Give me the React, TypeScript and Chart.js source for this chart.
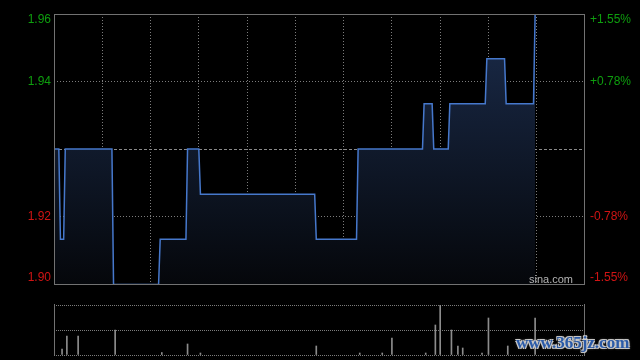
import React, { useEffect, useRef } from 'react';
import { Chart, registerables } from 'chart.js';

Chart.register(...registerables);

// ---- data ----
const PREV_CLOSE = 1.93;
const RANGE_PCT = 0.0155;
const SESSION_MINUTES = 330; // 09:30-12:00 + 13:00-16:00
const GRID_STEP_MINUTES = 30;

// minute index since open, and last price at that minute (change points of the step line)
const priceMinutes = [0, 3, 4, 6, 7, 36, 37, 65, 66, 82, 83, 90, 91, 162, 163, 188, 189, 229, 230, 235, 236, 245, 246, 268, 269, 280, 281, 298, 299];
const priceValues = [1.93, 1.93, 1.91, 1.91, 1.93, 1.93, 1.90, 1.90, 1.91, 1.91, 1.93, 1.93, 1.92, 1.92, 1.91, 1.91, 1.93, 1.93, 1.94, 1.94, 1.93, 1.93, 1.94, 1.94, 1.95, 1.95, 1.94, 1.94, 1.96];

// minute index and traded volume (shares)
const volumeMinutes = [5, 8, 15, 38, 67, 83, 91, 163, 190, 204, 210, 231, 237, 240, 247, 251, 254, 266, 270, 282, 299];
const volumeValues = [6000, 19000, 19000, 25000, 2500, 11000, 2000, 9000, 2000, 2000, 17000, 2000, 30000, 50000, 25000, 9000, 7000, 2000, 37000, 9000, 37000];

const priceTickLabels = ['1.96', '1.94', '', '1.92', '1.90'];
const pctTickLabels = ['+1.55%', '+0.78%', '', '-0.78%', '-1.55%'];

const UP_COLOR = '#0e9e0e';
const DOWN_COLOR = '#d01414';
const GRID_COLOR = '#7c7c7c';
const BORDER_COLOR = '#727272';
const LINE_COLOR = '#4678cc';
const VOL_COLOR = '#8c8c8c';
const FONT = '"Liberation Sans", Arial, sans-serif';

const yMax = PREV_CLOSE * (1 + RANGE_PCT);
const yMin = PREV_CLOSE * (1 - RANGE_PCT);
const yTicks = [yMax, PREV_CLOSE * (1 + RANGE_PCT / 2), PREV_CLOSE, PREV_CLOSE * (1 - RANGE_PCT / 2), yMin];

const priceDecor = {
  id: 'priceDecor',
  beforeDatasetsDraw(chart: any) {
    const { ctx, chartArea, scales } = chart;
    const y = Math.round(scales.y.getPixelForValue(PREV_CLOSE)) + 0.5;
    ctx.save();
    ctx.strokeStyle = '#8a8a8a';
    ctx.lineWidth = 1;
    ctx.setLineDash([3, 2]);
    ctx.beginPath();
    ctx.moveTo(chartArea.left, y);
    ctx.lineTo(chartArea.right, y);
    ctx.stroke();
    ctx.restore();
  },
  afterDatasetsDraw(chart: any) {
    const { ctx, chartArea } = chart;
    ctx.save();
    ctx.strokeStyle = BORDER_COLOR;
    ctx.lineWidth = 1;
    ctx.strokeRect(
      Math.round(chartArea.left) + 0.5,
      Math.round(chartArea.top) + 0.5,
      Math.round(chartArea.right - chartArea.left) - 1,
      Math.round(chartArea.bottom - chartArea.top)
    );
    ctx.restore();
  },
  afterDraw(chart: any) {
    const { ctx, chartArea, scales } = chart;
    ctx.save();
    ctx.font = `12px ${FONT}`;
    ctx.textBaseline = 'middle';
    yTicks.forEach((v, i) => {
      let y = scales.y.getPixelForValue(v);
      if (i === 0) y += 6;
      if (i === yTicks.length - 1) y -= 6;
      ctx.fillStyle = i < 2 ? UP_COLOR : DOWN_COLOR;
      if (priceTickLabels[i]) {
        ctx.textAlign = 'right';
        ctx.fillText(priceTickLabels[i], chartArea.left - 3, y);
      }
      if (pctTickLabels[i]) {
        ctx.textAlign = 'left';
        ctx.fillText(pctTickLabels[i], chartArea.right + 5, y);
      }
    });
    ctx.font = `11px ${FONT}`;
    ctx.fillStyle = '#b4b4b4';
    ctx.textAlign = 'right';
    ctx.textBaseline = 'alphabetic';
    ctx.fillText('sina.com', chartArea.right - 12, chartArea.bottom - 1);
    ctx.restore();
  },
};

const volDecor = {
  id: 'volDecor',
  afterDatasetsDraw(chart: any) {
    const { ctx, chartArea } = chart;
    ctx.save();
    ctx.strokeStyle = BORDER_COLOR;
    ctx.lineWidth = 1;
    ctx.beginPath();
    const l = Math.round(chartArea.left) + 0.5;
    const r = Math.round(chartArea.right) - 0.5;
    ctx.moveTo(l, chartArea.top - 1);
    ctx.lineTo(l, chartArea.bottom);
    ctx.moveTo(r, chartArea.top - 1);
    ctx.lineTo(r, chartArea.bottom);
    ctx.stroke();
    ctx.restore();
  },
};

export default function App() {
  const priceRef = useRef<HTMLCanvasElement>(null);
  const volRef = useRef<HTMLCanvasElement>(null);

  useEffect(() => {
    document.body.style.margin = '0';
    document.body.style.background = '#000';

    const priceChart = new Chart(priceRef.current as HTMLCanvasElement, {
      type: 'line',
      data: {
        datasets: [
          {
            data: priceMinutes.map((m, i) => ({ x: m, y: priceValues[i] })),
            borderColor: LINE_COLOR,
            borderWidth: 1.5,
            pointRadius: 0,
            tension: 0,
            fill: 'start',
            backgroundColor: (c: any) => {
              const { chart } = c;
              const area = chart.chartArea;
              if (!area) return 'rgba(0,0,0,0)';
              const g = chart.ctx.createLinearGradient(0, area.top, 0, area.bottom);
              g.addColorStop(0, 'rgb(27,44,76)');
              g.addColorStop(1, 'rgb(5,7,11)');
              return g;
            },
          },
        ],
      },
      options: {
        animation: false,
        responsive: false,
        maintainAspectRatio: false,
        layout: { padding: { left: 54, right: 55, top: 14, bottom: 16 } },
        plugins: { legend: { display: false }, tooltip: { enabled: false } },
        scales: {
          x: {
            type: 'linear',
            min: 0,
            max: SESSION_MINUTES,
            ticks: { display: false, stepSize: GRID_STEP_MINUTES },
            grid: {
              drawTicks: false,
              lineWidth: 1,
              color: (c: any) =>
                c.tick && (c.tick.value === 0 || c.tick.value === SESSION_MINUTES) ? 'rgba(0,0,0,0)' : GRID_COLOR,
            },
            border: { display: false, dash: [1, 2] },
          },
          y: {
            type: 'linear',
            min: yMin,
            max: yMax,
            afterBuildTicks: (s: any) => {
              s.ticks = yTicks.map((v) => ({ value: v }));
            },
            ticks: { display: false },
            grid: {
              drawTicks: false,
              lineWidth: 1,
              color: (c: any) => (c.index === 1 || c.index === 3 ? GRID_COLOR : 'rgba(0,0,0,0)'),
            },
            border: { display: false, dash: [1, 2] },
          },
        },
      },
      plugins: [priceDecor],
    } as any);

    const volChart = new Chart(volRef.current as HTMLCanvasElement, {
      type: 'bar',
      data: {
        datasets: [
          {
            data: volumeMinutes.map((m, i) => ({ x: m, y: volumeValues[i] })),
            backgroundColor: VOL_COLOR,
            barThickness: 1,
            borderWidth: 0,
          },
        ],
      },
      options: {
        animation: false,
        responsive: false,
        maintainAspectRatio: false,
        layout: { padding: { left: 54, right: 55, top: 15, bottom: 5 } },
        plugins: { legend: { display: false }, tooltip: { enabled: false } },
        scales: {
          x: {
            type: 'linear',
            min: 0,
            max: SESSION_MINUTES,
            offset: false,
            ticks: { display: false },
            grid: { display: false, drawTicks: false },
            border: { display: false },
          },
          y: {
            type: 'linear',
            min: 0,
            max: Math.max(...volumeValues),
            afterBuildTicks: (s: any) => {
              const mx = Math.max(...volumeValues);
              s.ticks = [0, mx / 2, mx].map((v) => ({ value: v }));
            },
            ticks: { display: false },
            grid: { drawTicks: false, lineWidth: 1, color: GRID_COLOR },
            border: { display: false, dash: [1, 1] },
          },
        },
      },
      plugins: [volDecor],
    } as any);

    return () => {
      priceChart.destroy();
      volChart.destroy();
    };
  }, []);

  return (
    <div style={{ position: 'relative', width: 640, height: 360, background: '#000', overflow: 'hidden' }}>
      <canvas ref={priceRef} width={640} height={300} style={{ position: 'absolute', left: 0, top: 0, display: 'block' }} />
      <canvas ref={volRef} width={640} height={70} style={{ position: 'absolute', left: 0, top: 290, display: 'block' }} />
      <div
        style={{
          position: 'absolute',
          left: 516,
          top: 333,
          font: `bold 17px "Liberation Serif", serif`,
          color: '#2b5ba8',
          textShadow: '1px 1px 0 #c8c8c8, -1px -1px 0 #c8c8c8, 1px -1px 0 #c8c8c8, -1px 1px 0 #c8c8c8, 0 0 3px #aaa',
          whiteSpace: 'nowrap',
        }}
      >
        www.365jz.com
      </div>
    </div>
  );
}
